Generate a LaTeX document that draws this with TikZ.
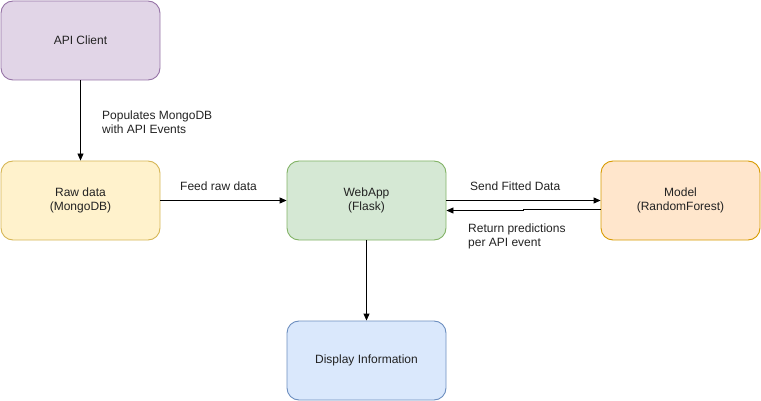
\documentclass[tikz,border=0pt]{standalone}
\usepackage{fontspec}
\setmainfont{Liberation Sans}
\usetikzlibrary{arrows.meta}
\definecolor{pfill}{HTML}{E1D5E7}\definecolor{pdraw}{HTML}{9673A6}
\definecolor{yfill}{HTML}{FFF2CC}\definecolor{ydraw}{HTML}{D6B656}
\definecolor{gfill}{HTML}{D5E8D4}\definecolor{gdraw}{HTML}{82B366}
\definecolor{ofill}{HTML}{FFE6CC}\definecolor{odraw}{HTML}{D79B00}
\definecolor{bfill}{HTML}{DAE8FC}\definecolor{bdraw}{HTML}{6C8EBF}
\definecolor{txt}{HTML}{222222}
\tikzset{
  box/.style={rounded corners=12pt, minimum width=159pt, minimum height=79pt, align=center, inner sep=0pt, line width=0.9pt, font=\fontsize{12}{14}\selectfont, text=txt},
  conn/.style={-{Triangle[length=7pt,width=6pt]}, line width=0.9pt},
  lbl/.style={font=\fontsize{12}{14}\selectfont, align=left, anchor=west, inner sep=0pt, text=txt}
}
\begin{document}
\begin{tikzpicture}[x=1pt,y=-1pt]
\useasboundingbox (0,0) rectangle (761,401);
\node[box, fill=pfill, draw=pdraw] (api) at (80.5,40.5) {API Client};
\node[box, fill=yfill, draw=ydraw] (raw) at (80.5,200.5) {Raw data\\(MongoDB)};
\node[box, fill=gfill, draw=gdraw] (web) at (366.5,200.5) {WebApp\\(Flask)};
\node[box, fill=ofill, draw=odraw] (model) at (680.5,200.5) {Model\\(RandomForest)};
\node[box, fill=bfill, draw=bdraw] (disp) at (366.5,360.5) {Display Information};
\draw[conn] (api.south) -- (raw.north);
\draw[conn] (raw.east) -- (web.west);
\draw[conn] (web.east) -- (model.west);
\draw[conn] (model.west |- 0,209.5) -- (523,209.5) -- (523,210.5) -- (web.east |- 0,210.5);
\draw[conn] (web.south) -- (disp.north);
\node[lbl] (l1) at (102,122) {Populates MongoDB\\with API Events};
\node[lbl] (l2) at (180,186) {Feed raw data};
\node[lbl] (l3) at (470,186) {Send Fitted Data};
\node[lbl] (l4) at (468,236) {Return predictions\\per API event};
\end{tikzpicture}
\end{document}
